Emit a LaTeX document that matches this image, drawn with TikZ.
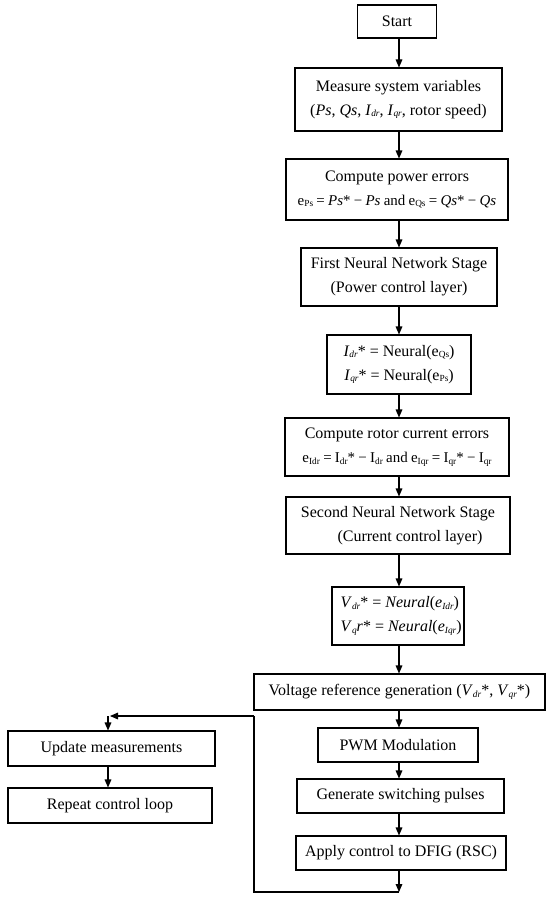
\documentclass[tikz,border=0pt]{standalone}
\usepackage{fontspec}
\setmainfont{Liberation Serif}
\usetikzlibrary{arrows.meta}
\newcommand{\sbs}[1]{\raisebox{-0.25ex}{\fontsize{7}{7}\selectfont #1}}
\newcommand{\frm}[1]{{\fontsize{11.2}{18}\selectfont\spaceskip=0.22em plus 0.05em #1}}
\tikzset{
  box/.style={draw, line width=0.8pt, inner sep=0pt, align=center, font=\fontsize{12}{18}\selectfont},
  arr/.style={line width=0.8pt, -{Triangle[length=6pt,width=5pt]}},
  ln/.style={line width=0.8pt}
}
\begin{document}
\begin{tikzpicture}[x=0.75pt,y=-0.75pt]
\useasboundingbox (0,0) rectangle (550,899);
\node[box, minimum width=79*0.75pt, minimum height=33*0.75pt] (start) at (397,21.5) {Start};
\node[box, minimum width=207*0.75pt, minimum height=63*0.75pt] (meas) at (398.5,99.5) {Measure system variables\\(\textit{Ps}, \textit{Qs}, \textit{I}\sbs{\textit{dr}}, \textit{I}\sbs{\textit{qr}}, rotor speed)};
\node[box, minimum width=222*0.75pt, minimum height=61*0.75pt] (perr) at (397,189.5) {Compute power errors\\\frm{e\sbs{Ps} = \textit{Ps}* − \textit{Ps} and e\sbs{Qs} = \textit{Qs}* − \textit{Qs}}};
\node[box, minimum width=196*0.75pt, minimum height=58*0.75pt] (nn1) at (399,277) {First Neural Network Stage\\(Power control layer)};
\node[box, minimum width=144*0.75pt, minimum height=59*0.75pt] (iref) at (399,364.5) {\textit{I}\sbs{\textit{dr}}* = Neural(e\sbs{Qs})\\\textit{I}\sbs{\textit{qr}}* = Neural(e\sbs{Ps})};
\node[box, minimum width=224*0.75pt, minimum height=58*0.75pt] (cerr) at (397,447) {Compute rotor current errors\\\frm{e\sbs{Idr} = I\sbs{dr}* − I\sbs{dr} and e\sbs{Iqr} = I\sbs{qr}* − I\sbs{qr}}};
\node[box, minimum width=224*0.75pt, minimum height=57*0.75pt] (nn2) at (398,525.5) {Second Neural Network Stage\hspace{1.2em}\\\hspace{1.5em}(Current control layer)};
\node[box, minimum width=132*0.75pt, minimum height=58*0.75pt, align=left] (vref) at (398,616) {\hspace{0.4em}\textit{V}\sbs{\textit{dr}}* = \textit{Neural}(\textit{e}\sbs{\textit{Idr}})\hspace{0.8em}\\\hspace{0.4em}\textit{V}\sbs{\textit{q}}\textit{r}* = \textit{Neural}(\textit{e}\sbs{\textit{Iqr}})};
\node[box, minimum width=291*0.75pt, minimum height=36*0.75pt] (volt) at (399.5,692) {Voltage reference generation (\textit{V}\sbs{\textit{dr}}*, \textit{V}\sbs{\textit{qr}}*)};
\node[box, minimum width=160*0.75pt, minimum height=34*0.75pt] (pwm) at (398,745) {PWM Modulation};
\node[box, minimum width=207*0.75pt, minimum height=34*0.75pt] (gen) at (400.5,796) {Generate switching pulses};
\node[box, minimum width=210*0.75pt, minimum height=34*0.75pt] (app) at (401,853) {Apply control to DFIG (RSC)};
\node[box, minimum width=207*0.75pt, minimum height=35*0.75pt] (upd) at (111.5,748.5) {Update measurements};
\node[box, minimum width=204*0.75pt, minimum height=35*0.75pt] (rep) at (110,805.5) {Repeat control loop};
\coordinate (c1) at (399,892);
\coordinate (c2) at (254,892);
\coordinate (c3) at (254,716);
\coordinate (c4) at (108,716);
\coordinate (c5) at (110,716);
\draw[arr] (start.south -| c1) -- (meas.north -| c1);
\draw[arr] (meas.south -| c1) -- (perr.north -| c1);
\draw[arr] (perr.south -| c1) -- (nn1.north -| c1);
\draw[arr] (nn1.south -| c1) -- (iref.north -| c1);
\draw[arr] (iref.south -| c1) -- (cerr.north -| c1);
\draw[arr] (cerr.south -| c1) -- (nn2.north -| c1);
\draw[arr] (nn2.south -| c1) -- (vref.north -| c1);
\draw[arr] (vref.south -| c1) -- (volt.north -| c1);
\draw[arr] (volt.south -| c1) -- (pwm.north -| c1);
\draw[arr] (pwm.south -| c1) -- (gen.north -| c1);
\draw[arr] (gen.south -| c1) -- (app.north -| c1);
\draw[arr] (app.south -| c1) -- (c1);
\draw[ln] (c1) -- (c2) -- (c3);
\draw[arr] (c3) -- (c5);
\draw[arr] (c4) -- (upd.north -| c4);
\draw[arr] (upd.south -| c4) -- (rep.north -| c4);
\end{tikzpicture}
\end{document}
